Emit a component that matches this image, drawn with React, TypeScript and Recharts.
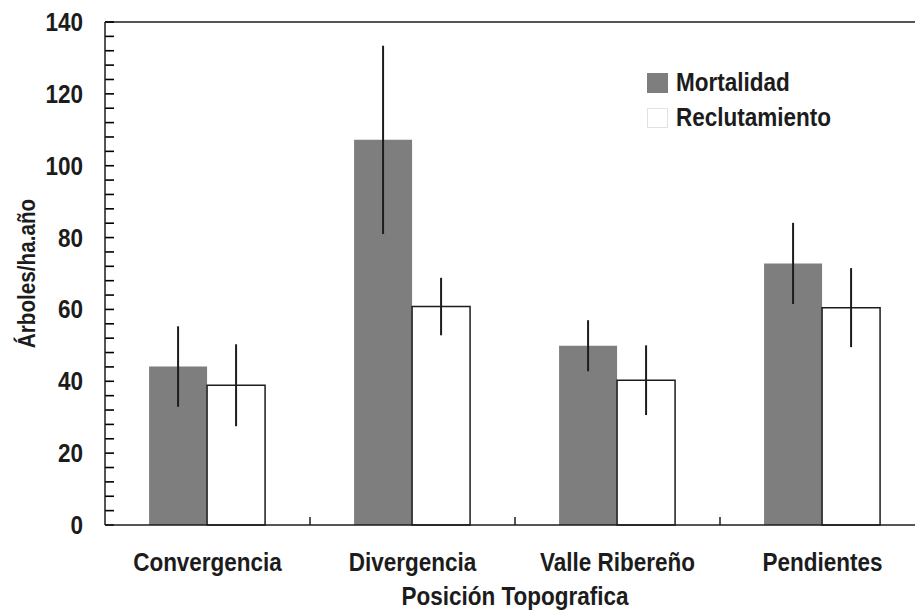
import { BarChart, Bar, XAxis, YAxis, ErrorBar, Legend, ReferenceLine, Label } from "recharts";

const FONT = '"Liberation Sans", Arial, sans-serif';
const SQUEEZE = 0.9; // fake a condensed face, no narrow font installed
const GRAY = "#7e7e7e";
const INK = "#1c1c1c";

const categories = ["Convergencia", "Divergencia", "Valle Ribereño", "Pendientes"];
const seriesNames = ["Mortalidad", "Reclutamiento"];
const mortalidad = [44.1, 107.2, 49.9, 72.8];
const mortalidadError = [11.2, 26.2, 7.1, 11.3];
const reclutamiento = [38.9, 60.8, 40.3, 60.5];
const reclutamientoError = [11.4, 8.0, 9.7, 11.0];

const yTicks = [
  0, 4, 8, 12, 16, 20, 24, 28, 32, 36, 40, 44, 48, 52, 56, 60, 64, 68, 72, 76, 80,
  84, 88, 92, 96, 100, 104, 108, 112, 116, 120, 124, 128, 132, 136, 140,
];
const yLabels = [0, 20, 40, 60, 80, 100, 120, 140];

const data = categories.map((name, i) => ({
  name,
  mort: mortalidad[i],
  mortErr: mortalidadError[i],
  rec: reclutamiento[i],
  recErr: reclutamientoError[i],
}));

const CondText = ({ x, y, anchor = "middle", size = 25, rotate = 0, baseline, children }: any) => (
  <text
    x={0}
    y={0}
    transform={`translate(${x} ${y}) rotate(${rotate}) scale(${SQUEEZE} 1)`}
    textAnchor={anchor}
    dominantBaseline={baseline}
    fontFamily={FONT}
    fontWeight={700}
    fontSize={size}
    fill={INK}
  >
    {children}
  </text>
);

// labels only on the 20s
const YTick = (props: any) => {
  const { x, y, payload } = props;
  if (!yLabels.includes(payload.value)) return <g />;
  return (
    <CondText x={x} y={y + 9} anchor="end">
      {payload.value}
    </CondText>
  );
};

// category label plus a small upward tick at the right edge of each band
const XTick = (props: any) => {
  const { x, y, payload } = props;
  const half = payload.offset ?? 102.5;
  return (
    <g>
      <line x1={x + half} y1={y} x2={x + half} y2={y - 8} stroke={INK} strokeWidth={1.5} />
      <CondText x={x} y={y + 46}>
        {payload.value}
      </CondText>
    </g>
  );
};

// inward y tick: a reference line cut down to a 9px stub at the axis
const TickStub = (p: any) => (
  <line x1={p.x1} y1={p.y1} x2={p.x1 + 9} y2={p.y1} stroke="#000" strokeWidth={1.6} />
);

const LegendBox = () => (
  <div style={{ fontFamily: FONT, fontWeight: 700, fontSize: 25, color: INK, lineHeight: "35px" }}>
    {seriesNames.map((name, i) => (
      <div key={name} style={{ display: "flex", alignItems: "center", height: 35 }}>
        <div
          style={{
            width: 21,
            height: 20,
            boxSizing: "border-box",
            background: i === 0 ? GRAY : "#fff",
            border: i === 0 ? "none" : "1px solid #e2e2e2",
            marginRight: 8,
          }}
        />
        <span style={{ display: "inline-block", transform: `scaleX(${SQUEEZE})`, transformOrigin: "left center", whiteSpace: "nowrap" }}>
          {name}
        </span>
      </div>
    ))}
  </div>
);

export default function App() {
  return (
    <div style={{ position: "fixed", left: 0, top: 0, width: 915, height: 611, overflow: "hidden", background: "#fff" }}>
      <BarChart
        width={940}
        height={611}
        data={data}
        margin={{ top: 22, right: 15, bottom: 36, left: 0 }}
        barCategoryGap="21.5%"
        barGap={0}
      >
        <XAxis
          dataKey="name"
          height={50}
          axisLine={{ stroke: INK, strokeWidth: 1.5 }}
          tickLine={false}
          tickSize={0}
          tickMargin={0}
          interval={0}
          tick={<XTick />}
        >
          <Label
            content={({ viewBox }: any) => (
              <CondText x={viewBox.x + viewBox.width / 2} y={viewBox.y + 80}>
                Posición Topografica
              </CondText>
            )}
          />
        </XAxis>
        <YAxis
          width={105}
          domain={[0, 140]}
          ticks={yTicks}
          interval={0}
          axisLine={{ stroke: INK, strokeWidth: 1.5 }}
          tickLine={false}
          tickSize={0}
          tickMargin={22}
          tick={<YTick />}
        >
          <Label
            content={({ viewBox }: any) => (
              <CondText x={viewBox.x + 27} y={viewBox.y + viewBox.height / 2} rotate={-90} size={23} baseline="central">
                Árboles/ha.año
              </CondText>
            )}
          />
        </YAxis>
        <ReferenceLine y={140} stroke={INK} strokeWidth={1.5} />
        {yTicks.map((v) => (
          <ReferenceLine key={v} y={v} ifOverflow="visible" shape={TickStub} />
        ))}
        <Legend
          layout="horizontal"
          verticalAlign="middle"
          align="center"
          content={<LegendBox />}
          wrapperStyle={{ position: "absolute", top: 65, left: 647, width: 260 }}
        />
        <Bar dataKey="mort" name={seriesNames[0]} fill={GRAY} isAnimationActive={false}>
          <ErrorBar dataKey="mortErr" width={0} stroke={INK} strokeWidth={2} />
        </Bar>
        <Bar dataKey="rec" name={seriesNames[1]} fill="#fff" stroke={INK} strokeWidth={1.5} isAnimationActive={false}>
          <ErrorBar dataKey="recErr" width={0} stroke={INK} strokeWidth={2} />
        </Bar>
      </BarChart>
    </div>
  );
}
